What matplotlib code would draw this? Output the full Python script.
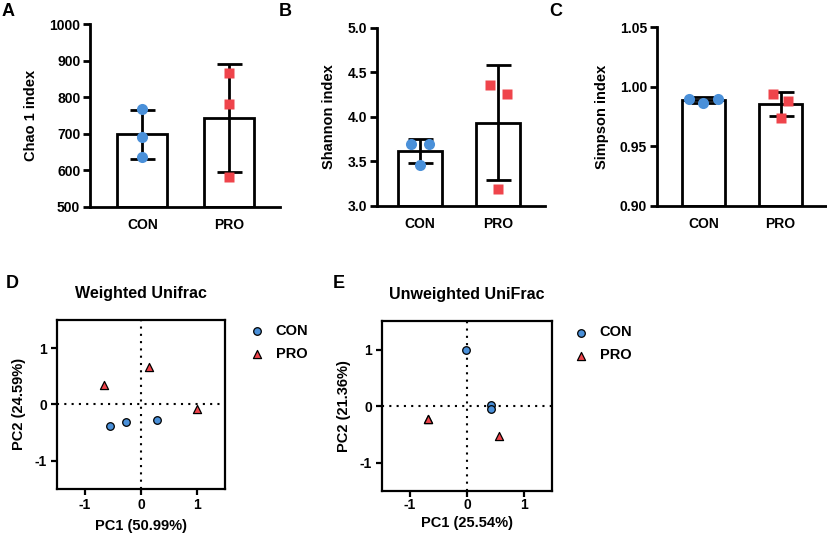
import numpy as np
import matplotlib
matplotlib.use('Agg')
import matplotlib.pyplot as plt

plt.rcParams['font.family'] = ['Liberation Sans', 'DejaVu Sans']
plt.rcParams['font.weight'] = 'bold'
plt.rcParams['axes.labelweight'] = 'bold'
plt.rcParams['axes.unicode_minus'] = False

BLUE = '#4a90d9'
RED = '#ef444b'

groups = ['CON', 'PRO']

# alpha diversity values (3 samples per group)
chao_con = [768, 692, 635]
chao_pro = [867, 782, 580]
shannon_con = [3.69, 3.69, 3.46]
shannon_pro = [4.36, 4.25, 3.19]
simpson_con = [0.990, 0.986, 0.990]
simpson_pro = [0.994, 0.988, 0.974]

# horizontal jitter of the dots in each group
jit_a = [[0, 0, 0], [0, 0, 0]]
jit_b = [[-0.11, 0.11, 0.0], [-0.1, 0.11, 0.0]]
jit_c = [[-0.18, 0.0, 0.19], [-0.1, 0.1, 0.0]]

# PCoA coordinates
wu_con_x = [-0.555, -0.263, 0.28]
wu_con_y = [-0.388, -0.31, -0.287]
wu_pro_x = [-0.657, 0.149, 1.003]
wu_pro_y = [0.352, 0.669, -0.084]

uu_con_x = [-0.012, 0.42, 0.42]
uu_con_y = [1.0, 0.018, -0.053]
uu_pro_x = [-0.69, -0.69, 0.56]
uu_pro_y = [-0.235, -0.235, -0.52]

fig = plt.figure(figsize=(8.27, 5.34), dpi=100)

FS = 10


def bar_panel(rect, con, pro, jit, ylim, yticks, yfmt, ylabel, xlim, width):
    ax = fig.add_axes(rect)
    x = np.arange(2)
    data = [np.array(con), np.array(pro)]
    means = [d.mean() for d in data]
    sds = [d.std(ddof=1) for d in data]
    ax.bar(x, [m - ylim[0] for m in means], bottom=ylim[0], width=width,
           color='white', edgecolor='black', linewidth=2, zorder=1)
    ax.errorbar(x, means, yerr=sds, fmt='none', ecolor='black',
                elinewidth=2, capsize=9, capthick=2, zorder=2)
    ax.plot(x[0] + np.array(jit[0]), data[0], 'o', color=BLUE, ms=8,
            mec='none', zorder=3, clip_on=False)
    ax.plot(x[1] + np.array(jit[1]), data[1], 's', color=RED, ms=7.5,
            mec='none', zorder=3, clip_on=False)
    ax.set_xlim(*xlim)
    ax.set_ylim(*ylim)
    ax.set_yticks(yticks)
    ax.set_yticklabels([yfmt.format(v) for v in yticks])
    ax.set_xticks(x)
    ax.set_xticklabels(groups)
    ax.spines['top'].set_visible(False)
    ax.spines['right'].set_visible(False)
    ax.spines['left'].set_linewidth(2)
    ax.spines['bottom'].set_linewidth(2)
    ax.tick_params(axis='y', width=2, length=5, labelsize=FS, pad=2)
    ax.tick_params(axis='x', length=0, labelsize=FS, pad=8)
    ax.set_ylabel(ylabel, fontsize=FS + 0.5, labelpad=8)
    return ax


axA = bar_panel([0.1088, 0.613, 0.2297, 0.3415], chao_con, chao_pro, jit_a,
                (500, 1000), [500, 600, 700, 800, 900, 1000], '{:.0f}',
                'Chao 1 index', (-0.6, 1.58), 0.575)
axB = bar_panel([0.4555, 0.6148, 0.2035, 0.3333], shannon_con, shannon_pro, jit_b,
                (3.0, 5.0), [3.0, 3.5, 4.0, 4.5, 5.0], '{:.1f}',
                'Shannon index', (-0.555, 1.6), 0.56)
axC = bar_panel([0.7944, 0.6148, 0.2056, 0.3341], simpson_con, simpson_pro, jit_c,
                (0.90, 1.05), [0.90, 0.95, 1.00, 1.05], '{:.2f}',
                'Simpson index', (-0.6, 1.6), 0.56)


def pcoa_panel(rect, cx, cy, px, py, title, xlabel, ylabel, xpad, leg_x):
    ax = fig.add_axes(rect)
    ax.axhline(0, color='black', ls=(0, (1, 2.5)), lw=1.5, zorder=1)
    ax.axvline(0, color='black', ls=(0, (1, 2.5)), lw=1.5, zorder=1)
    ax.scatter(cx, cy, marker='o', s=30, color=BLUE, edgecolor='black',
               linewidth=0.9, zorder=3, label='CON')
    ax.scatter(px, py, marker='^', s=34, color=RED, edgecolor='black',
               linewidth=0.9, zorder=3, label='PRO')
    ax.set_xlim(-1.5, 1.5)
    ax.set_ylim(-1.5, 1.5)
    ax.set_xticks([-1, 0, 1])
    ax.set_yticks([-1, 0, 1])
    for s in ax.spines.values():
        s.set_linewidth(1.6)
    ax.tick_params(width=1.6, length=4, labelsize=FS, pad=3)
    ax.tick_params(axis='x', pad=xpad)
    ax.set_title(title, fontsize=FS + 1.5, fontweight='bold', pad=16)
    ax.set_xlabel(xlabel, fontsize=FS + 0.5, labelpad=xpad + 2)
    ax.set_ylabel(ylabel, fontsize=FS + 0.5, labelpad=6)
    ax.legend(loc='upper left', bbox_to_anchor=(leg_x, 1.01), frameon=False,
              fontsize=FS + 0.5, handletextpad=0.8, labelspacing=0.62,
              borderaxespad=0, handlelength=1.0)
    return ax


axD = pcoa_panel([0.0686, 0.0848, 0.2035, 0.316], wu_con_x, wu_con_y,
                 wu_pro_x, wu_pro_y, 'Weighted Unifrac',
                 'PC1 (50.99%)', 'PC2 (24.59%)', 3, 1.11)
axE = pcoa_panel([0.4615, 0.0805, 0.2063, 0.318], uu_con_x, uu_con_y,
                 uu_pro_x, uu_pro_y, 'Unweighted UniFrac',
                 'PC1 (25.54%)', 'PC2 (21.36%)', 1, 1.09)

# panel letters
for lab, xp, yp in [('A', 2, 11), ('B', 279, 11), ('C', 549, 11),
                    ('D', 6, 283), ('E', 333, 283)]:
    fig.text(xp / 827, 1 - yp / 534, lab, fontsize=13, fontweight='bold',
             ha='left', va='center')

fig.savefig('out.png', dpi=100)
